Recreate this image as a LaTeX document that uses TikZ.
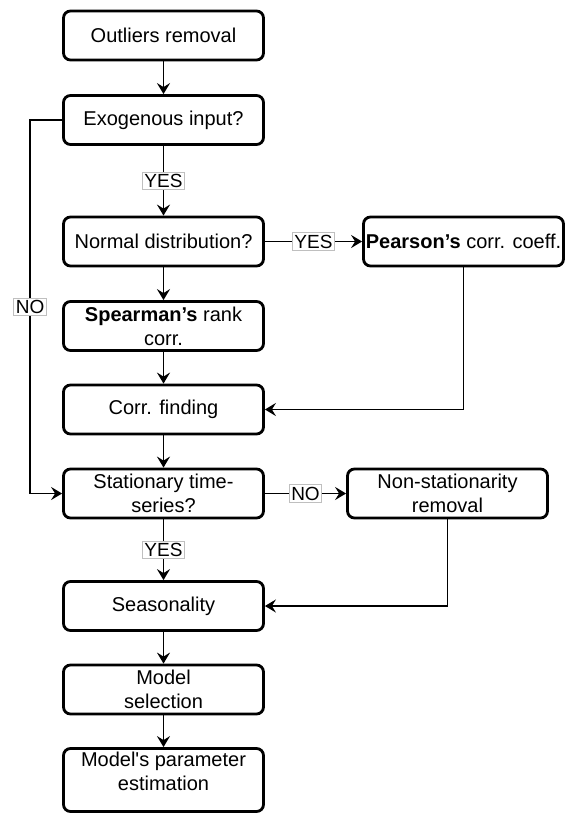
\documentclass[tikz,border=0pt]{standalone}
\usepackage{fontspec}
\setmainfont{Liberation Sans}
\usetikzlibrary{arrows.meta}

\begin{document}
\begin{tikzpicture}[x=0.5pt,y=-0.5pt,
		font=\fontsize{10}{12}\selectfont,
		procbox/.style={draw,line width=1.4pt,rounded corners=3.5pt,minimum width=100pt,minimum height=24.5pt,align=center,inner sep=1pt},
		answer/.style={fill=white,draw=black!25,line width=0.4pt,inner sep=1pt,font=\fontsize{9.5}{11}\selectfont},
		flow/.style={line width=0.8pt,-{Stealth[length=5.5pt,width=6.5pt,inset=2pt]}}]
			\useasboundingbox (0,0) rectangle (566,814);
			\node[procbox] (outliers) at (163.5,35.5) {Outliers removal};
			\node[procbox] (exog) at (163.5,120) {Exogenous input?};
			\node[procbox] (normal) at (163.5,241.5) {Normal distribution?};
			\node[procbox] (pearson) at (463.5,241.5) {\textbf{Pearson’s} corr. coeff.};
			\node[procbox] (spearman) at (163.5,326) {\textbf{Spearman’s} rank\\corr.};
			\node[procbox] (corr) at (163.5,409.5) {Corr. finding};
			\node[procbox] (stat) at (163.5,493.5) {Stationary time-\\series?};
			\node[procbox] (nonstat) at (447.5,493.5) {Non-stationarity\\removal};
			\node[procbox] (season) at (163.5,606) {Seasonality};
			\node[procbox] (modelsel) at (163.5,689.5) {Model\\selection};
			\node[procbox,minimum height=31.5pt] (modelpar) at (163.5,780) {Model\textquotesingle s parameter\\estimation\\[-3pt]\mbox{}};
			\draw[flow] (outliers) -- (exog);
			\draw[flow] (exog) -- node[answer] {YES} (normal);
			\draw[flow] (normal) -- node[answer] {YES} (pearson);
			\draw[flow] (normal) -- (spearman);
			\draw[flow] (spearman) -- (corr);
			\draw[flow] (pearson.south) |- (corr.east);
			\draw[flow] (exog.west) -- ++(-32,0) |- node[answer,pos=0.25] {NO} (stat.west);
			\draw[flow] (corr) -- (stat);
			\draw[flow] (stat) -- node[answer] {NO} (nonstat);
			\draw[flow] (stat) -- node[answer] {YES} (season);
			\draw[flow] (nonstat.south) |- (season.east);
			\draw[flow] (season) -- (modelsel);
			\draw[flow] (modelsel) -- (modelpar);
		\end{tikzpicture}
\end{document}
